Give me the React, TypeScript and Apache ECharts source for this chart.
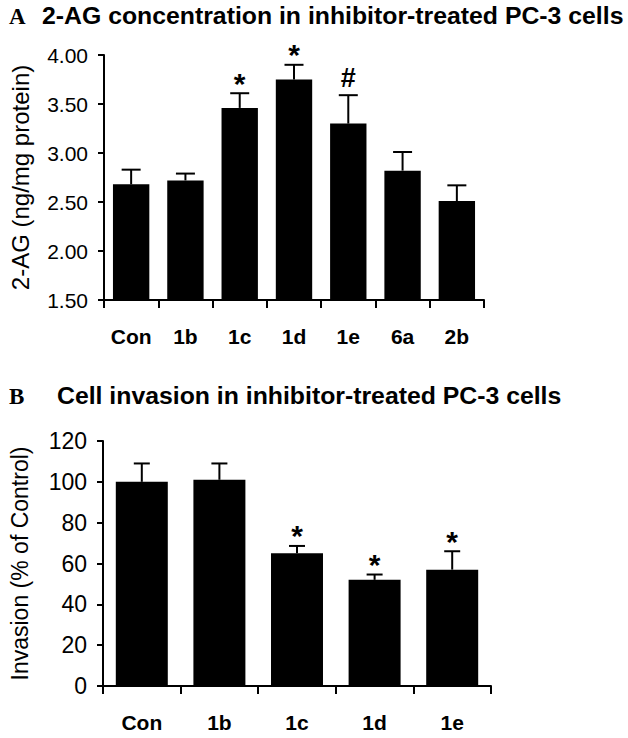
import React, { useEffect, useRef } from "react";
import * as echarts from "echarts";

const topCategories = ["Con", "1b", "1c", "1d", "1e", "6a", "2b"];
const topMeans = [2.68, 2.72, 3.46, 3.75, 3.3, 2.82, 2.51];
const topErrors = [0.15, 0.07, 0.15, 0.15, 0.29, 0.19, 0.16];
const topMarks = ["", "", "*", "*", "#", "", ""];
const topTicks = [1.5, 4.0, 0.5]; // min, max, interval

const bottomCategories = ["Con", "1b", "1c", "1d", "1e"];
const bottomMeans = [100, 101, 65, 52, 57];
const bottomErrors = [9, 8, 3.6, 2.6, 9];
const bottomMarks = ["", "", "*", "*", "*"];
const bottomTicks = [0, 120, 20];

const SANS = "'Liberation Sans', Arial, sans-serif";
const SERIF = "'Liberation Serif', 'Times New Roman', serif";

function makeErrorRender(cap: number) {
  return function errorRender(params: any, api: any) {
    const idx = api.value(0);
    const mean = api.value(1);
    const err = api.value(2);
    const mark = api.value(3);
    const base = api.coord([idx, mean]);
    const top = api.coord([idx, mean + err]);
    const children: any[] = [
      {
        type: "line",
        shape: { x1: base[0], y1: base[1], x2: top[0], y2: top[1] },
        style: { stroke: "#000", lineWidth: 2 },
      },
      {
        type: "line",
        shape: { x1: top[0] - cap / 2, y1: top[1], x2: top[0] + cap / 2, y2: top[1] },
        style: { stroke: "#000", lineWidth: 2 },
      },
    ];
    if (mark && mark !== "-") {
      children.push({
        type: "text",
        style: {
          text: mark,
          x: top[0],
          y: mark === "#" ? top[1] - 4 : top[1] + 5,
          align: "center",
          verticalAlign: "bottom",
          fill: "#000",
          font: mark === "#" ? `bold 27px ${SANS}` : `bold 30px ${SANS}`,
        },
      });
    }
    return { type: "group", children };
  };
}

function yAxisCfg(
  gridIndex: number,
  ticks: number[],
  name: string,
  decimals: number,
  nameGap: number,
  labelSize: number,
  nameSize: number
) {
  return {
    type: "value",
    gridIndex,
    min: ticks[0],
    max: ticks[1],
    interval: ticks[2],
    name,
    nameLocation: "middle",
    nameGap,
    nameTextStyle: { fontFamily: SANS, fontSize: nameSize, color: "#000" },
    axisLine: { show: true, lineStyle: { color: "#000", width: 2 } },
    axisTick: { show: true, length: 6, lineStyle: { color: "#000", width: 2 } },
    axisLabel: {
      fontFamily: SANS,
      fontSize: labelSize,
      color: "#000",
      margin: 16,
      formatter: (v: number) => v.toFixed(decimals),
    },
    splitLine: { show: false },
  };
}

function xAxisCfg(gridIndex: number, cats: string[]) {
  return {
    type: "category",
    gridIndex,
    data: cats,
    axisLine: { show: true, lineStyle: { color: "#000", width: 2 } },
    axisTick: { show: true, length: 8, lineStyle: { color: "#000", width: 2 } },
    axisLabel: {
      fontFamily: SANS,
      fontSize: 21,
      fontWeight: "bold",
      color: "#000",
      margin: 26,
    },
  };
}

export default function App() {
  const ref = useRef<HTMLDivElement>(null);
  useEffect(() => {
    document.body.style.margin = "0";
    const chart = echarts.init(ref.current!, null, { renderer: "svg" });
    const topErrData = topCategories.map((_, i) => [i, topMeans[i], topErrors[i], topMarks[i] || "-"]);
    const bottomErrData = bottomCategories.map((_, i) => [i, bottomMeans[i], bottomErrors[i], bottomMarks[i] || "-"]);
    chart.setOption({
      animation: false,
      backgroundColor: "#fff",
      title: [
        { text: "A", left: 9, top: 5, padding: 0, textStyle: { fontFamily: SERIF, fontWeight: "bold", fontSize: 23, color: "#000" } },
        { text: "2-AG concentration in inhibitor-treated PC-3 cells", left: 42, top: 3, padding: 0, textStyle: { fontFamily: SANS, fontWeight: "bold", fontSize: 24.8, color: "#000" } },
        { text: "B", left: 9, top: 385, padding: 0, textStyle: { fontFamily: SERIF, fontWeight: "bold", fontSize: 23, color: "#000" } },
        { text: "Cell invasion in inhibitor-treated PC-3 cells", left: 57, top: 383, padding: 0, textStyle: { fontFamily: SANS, fontWeight: "bold", fontSize: 24.8, color: "#000" } },
      ],
      grid: [
        { left: 98, top: 55, width: 386, height: 245 },
        { left: 98, top: 441, width: 393, height: 245 },
      ],
      xAxis: [xAxisCfg(0, topCategories), xAxisCfg(1, bottomCategories)],
      yAxis: [
        yAxisCfg(0, topTicks, "2-AG (ng/mg protein)", 2, 72, 21, 24),
        yAxisCfg(1, bottomTicks, "Invasion (% of Control)", 0, 72, 23, 23),
      ],
      series: [
        { type: "bar", xAxisIndex: 0, yAxisIndex: 0, data: topMeans, barWidth: "67%", itemStyle: { color: "#000" } },
        { type: "custom", xAxisIndex: 0, yAxisIndex: 0, data: topErrData, renderItem: makeErrorRender(19), z: 3 },
        { type: "bar", xAxisIndex: 1, yAxisIndex: 1, data: bottomMeans, barWidth: "67%", itemStyle: { color: "#000" } },
        { type: "custom", xAxisIndex: 1, yAxisIndex: 1, data: bottomErrData, renderItem: makeErrorRender(16), z: 3 },
      ],
    });
    return () => chart.dispose();
  }, []);
  return <div ref={ref} style={{ position: "fixed", left: 0, top: 0, width: 628, height: 738 }} />;
}
